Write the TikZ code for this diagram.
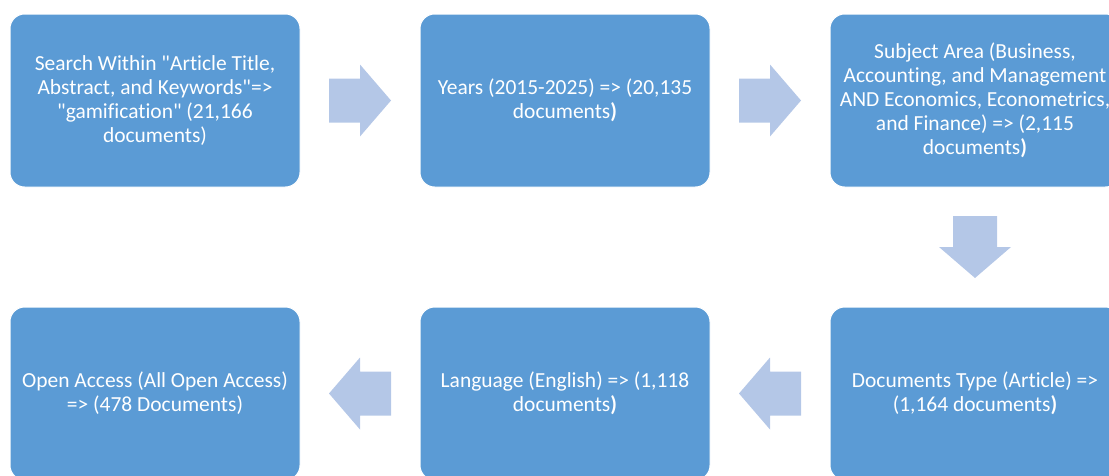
\documentclass[tikz,border=0pt]{standalone}
\usepackage{fontspec}
\setmainfont{Carlito}[Ligatures={TeXOff,NoCommon}]
\usetikzlibrary{positioning,calc}
\definecolor{boxblue}{RGB}{91,155,213}
\definecolor{arrowblue}{RGB}{180,199,231}
\tikzset{
  stage/.style={draw=white,line width=0.75pt,fill=boxblue,rounded corners=11pt,text=white,align=center,
    minimum width=217.5pt,minimum height=129.75pt,inner sep=2pt,font=\fontsize{16.1}{18}\selectfont},
  blockarrow/.pic={\fill[arrowblue] (-31,-22) -- (0,-22) -- (0,-36) -- (31,0) -- (0,36) -- (0,22) -- (-31,22) -- cycle;}
}
\begin{document}
\begin{tikzpicture}[x=0.75pt,y=-0.75pt,node distance=89.25pt]
\useasboundingbox (0,0) rectangle (1109,475);
\clip (0,0) rectangle (1109,475);
\node[stage] (search) at (155,100.5) {Search Within "Article Title,\\Abstract, and Keywords"=>\\"gamification" (21,166\\documents)};
\node[stage,right=of search] (years) {Years (2015-2025) => (20,135\\documents\textbf{)}};
\node[stage,right=of years] (subject) {Subject Area (Business,\\Accounting, and Management\\AND Economics, Econometrics,\\and Finance) => (2,115\\documents\textbf{)}};
\node[stage,below=of subject] (doctype) {Documents Type (Article) =>\\(1,164 documents\textbf{)}};
\node[stage,left=of doctype] (language) {Language (English) => (1,118\\documents\textbf{)}};
\node[stage,left=of language] (access) {Open Access (All Open Access)\\=> (478 Documents)};
\pic at ($(search.east)!0.5!(years.west)$) {blockarrow};
\pic at ($(years.east)!0.5!(subject.west)$) {blockarrow};
\pic[rotate=-90] at ($(subject.south)!0.5!(doctype.north)$) {blockarrow};
\pic[rotate=180] at ($(doctype.west)!0.5!(language.east)$) {blockarrow};
\pic[rotate=180] at ($(language.west)!0.5!(access.east)$) {blockarrow};
\end{tikzpicture}
\end{document}
